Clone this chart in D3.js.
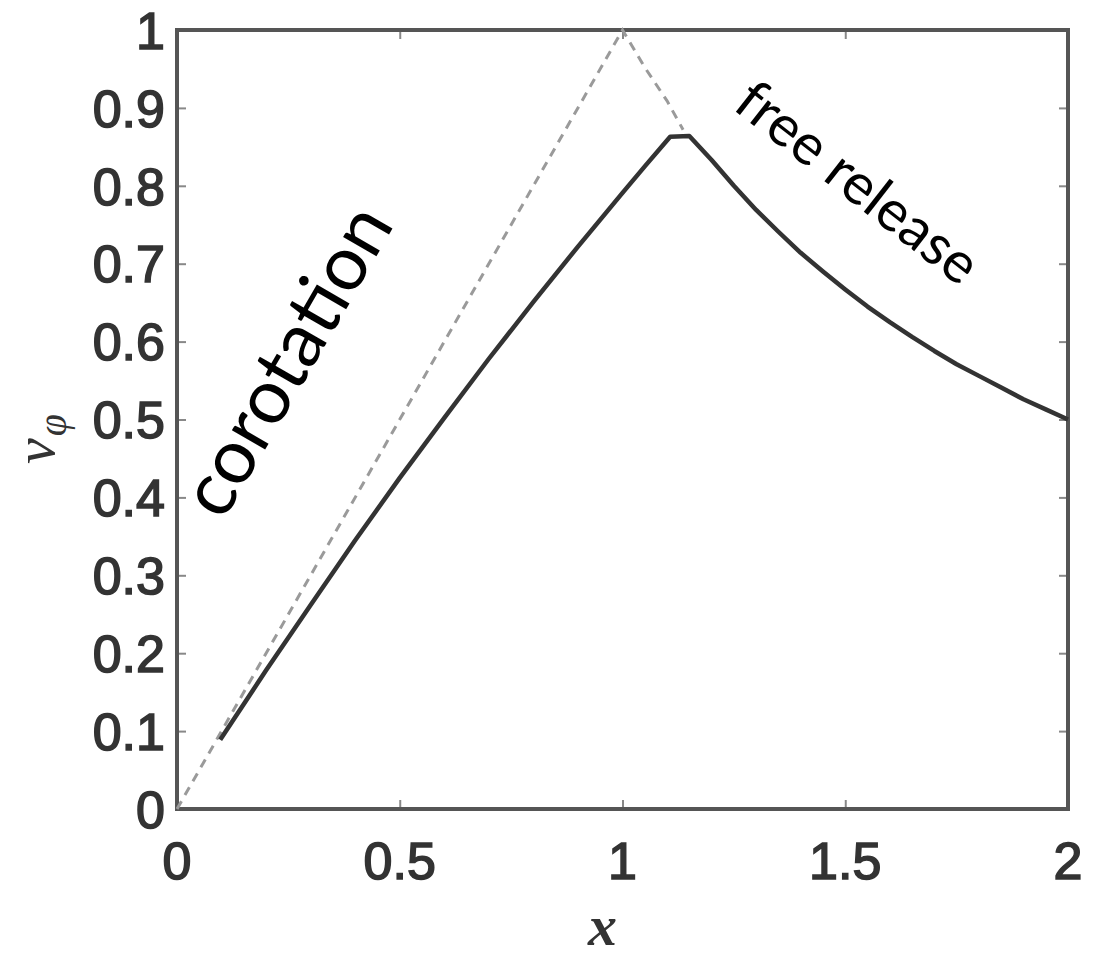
<!DOCTYPE html>
<html>
<head>
<meta charset="utf-8">
<script src="https://cdn.jsdelivr.net/npm/d3@7"></script>
<style>
  html, body { margin: 0; padding: 0; background: #fff; }
  svg { display: block; }
</style>
</head>
<body>
<div id="chart"></div>
<script>
// Azimuthal velocity profile: actual curve vs. corotation / free-release limits
const curveX = [0.097, 0.2, 0.3, 0.4, 0.5, 0.6, 0.7, 0.8, 0.9, 1.0, 1.05, 1.107, 1.15, 1.2, 1.25, 1.3, 1.35, 1.4, 1.45, 1.5, 1.55, 1.6, 1.65, 1.7, 1.75, 1.8, 1.85, 1.9, 1.95, 2.0];
const curveV = [0.089, 0.178, 0.262, 0.345, 0.425, 0.502, 0.578, 0.651, 0.722, 0.791, 0.825, 0.863, 0.864, 0.833, 0.800, 0.769, 0.741, 0.714, 0.690, 0.667, 0.645, 0.625, 0.606, 0.588, 0.571, 0.556, 0.541, 0.526, 0.513, 0.5];

const limitX = [0, 1.0, 1.05, 1.1, 1.136];
const limitV = [0, 1.0, 0.952, 0.909, 0.872];

const xTicks = [0, 0.5, 1, 1.5, 2];
const xTickLabels = ["0", "0.5", "1", "1.5", "2"];
const yTicks = [0, 0.1, 0.2, 0.3, 0.4, 0.5, 0.6, 0.7, 0.8, 0.9, 1];
const yTickLabels = ["0", "0.1", "0.2", "0.3", "0.4", "0.5", "0.6", "0.7", "0.8", "0.9", "1"];

const W = 1119, H = 957;
const margin = { left: 177, right: 51, top: 30, bottom: 148 };

const svg = d3.select("#chart").append("svg")
  .attr("width", W).attr("height", H);

const x = d3.scaleLinear().domain([0, 2]).range([margin.left, W - margin.right]);
const y = d3.scaleLinear().domain([0, 1]).range([H - margin.bottom, margin.top]);

const tickFont = "'Liberation Sans', Arial, sans-serif";
const axisColor = "#555";
const labelColor = "#333";

// Inward ticks on all four sides
const g = svg.append("g");
const bottomAxis = d3.axisBottom(x).tickValues(xTicks).tickSize(-9).tickFormat("");
const topAxis = d3.axisTop(x).tickValues(xTicks).tickSize(-9).tickFormat("");
const leftAxis = d3.axisLeft(y).tickValues(yTicks).tickSize(-9).tickFormat("");
const rightAxis = d3.axisRight(y).tickValues(yTicks).tickSize(-9).tickFormat("");

[[bottomAxis, `translate(0,${y(0)})`], [topAxis, `translate(0,${y(1)})`],
 [leftAxis, `translate(${x(0)},0)`], [rightAxis, `translate(${x(2)},0)`]].forEach(([ax, tr]) => {
  const a = g.append("g").attr("transform", tr).call(ax);
  a.select(".domain").remove();
  a.selectAll(".tick line").attr("stroke", "#888").attr("stroke-width", 2);
});

// Frame
svg.append("rect")
  .attr("x", x(0)).attr("y", y(1))
  .attr("width", x(2) - x(0)).attr("height", y(0) - y(1))
  .attr("fill", "none").attr("stroke", axisColor).attr("stroke-width", 4);

// Tick labels (regular weight, thickened slightly with a matching stroke)
svg.append("g").selectAll("text").data(yTicks).join("text")
  .attr("x", x(0) - 12).attr("y", d => y(d))
  .attr("dy", "0.36em")
  .attr("text-anchor", "end")
  .attr("font-family", tickFont).attr("font-size", 52)
  .attr("fill", labelColor).attr("stroke", labelColor).attr("stroke-width", 1.6)
  .text((d, i) => yTickLabels[i]);

svg.append("g").selectAll("text").data(xTicks).join("text")
  .attr("x", d => x(d)).attr("y", y(0) + 70)
  .attr("text-anchor", "middle")
  .attr("font-family", tickFont).attr("font-size", 52)
  .attr("fill", labelColor).attr("stroke", labelColor).attr("stroke-width", 1.6)
  .text((d, i) => xTickLabels[i]);

// Axis titles
svg.append("text")
  .attr("x", x(1) - 20).attr("y", 945)
  .attr("text-anchor", "middle")
  .attr("font-family", "'Liberation Serif', 'DejaVu Serif', serif")
  .attr("font-style", "italic").attr("font-weight", "bold").attr("font-size", 58)
  .attr("fill", labelColor)
  .text("x");

const yl = svg.append("text")
  .attr("transform", "translate(54,464) rotate(-90)")
  .attr("font-family", "'Liberation Serif', 'DejaVu Serif', serif")
  .attr("font-style", "italic")
  .attr("fill", labelColor);
yl.append("tspan").attr("font-size", 58).text("v");
yl.append("tspan").attr("font-size", 40).attr("dy", 12).attr("dx", 2).text("φ");

// Lines
const line = d3.line().x(d => x(d[0])).y(d => y(d[1]));

svg.append("path")
  .datum(limitX.map((v, i) => [v, limitV[i]]))
  .attr("d", line)
  .attr("fill", "none").attr("stroke", "#9a9a9a")
  .attr("stroke-width", 3).attr("stroke-dasharray", "9,7");

svg.append("path")
  .datum(curveX.map((v, i) => [v, curveV[i]]))
  .attr("d", line)
  .attr("fill", "none").attr("stroke", "#333")
  .attr("stroke-width", 4.5).attr("stroke-linejoin", "round");

// Region annotations
const annFont = "Lato, 'Open Sans', sans-serif";
svg.append("text")
  .attr("transform", "translate(286,360) rotate(-60)")
  .attr("text-anchor", "middle").attr("dy", "0.35em")
  .attr("font-family", annFont).attr("font-size", 76)
  .attr("fill", "#000")
  .text("corotation");

svg.append("text")
  .attr("transform", "translate(858,182) rotate(38)")
  .attr("text-anchor", "middle").attr("dy", "0.35em")
  .attr("font-family", annFont).attr("font-size", 57)
  .attr("fill", "#000")
  .text("free release");
</script>
</body>
</html>
